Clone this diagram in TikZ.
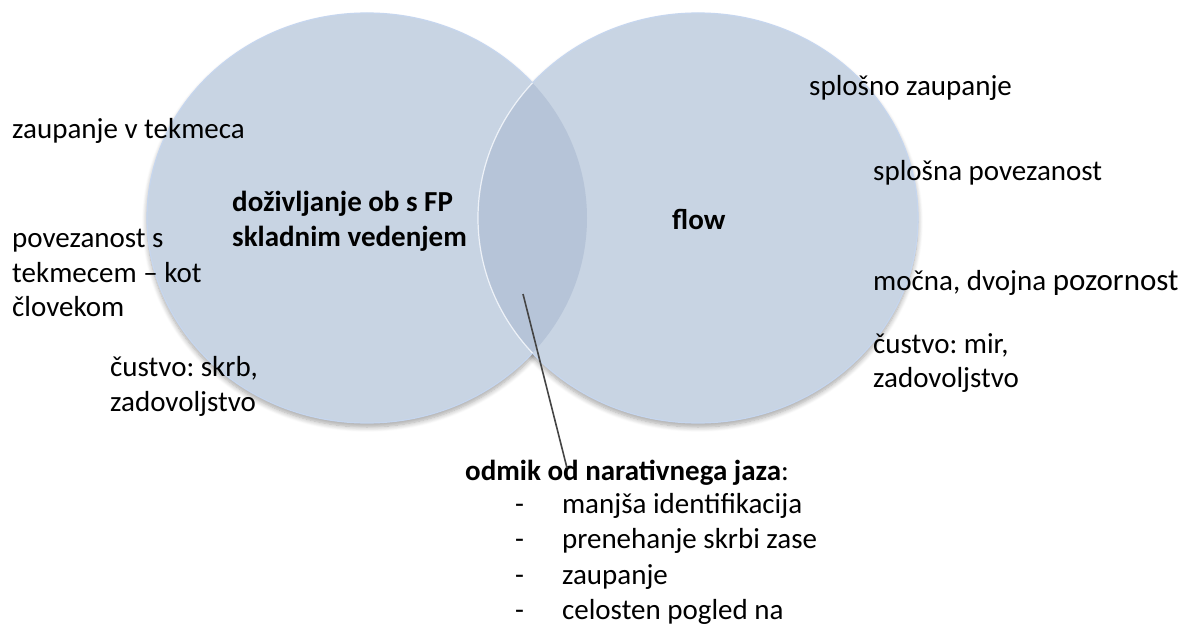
\documentclass[tikz,border=0pt]{standalone}
\usepackage{fontspec}
\setmainfont{Carlito}
\usetikzlibrary{shapes.geometric,shadows.blur}

\definecolor{vennfill}{HTML}{C8D4E3}
\definecolor{vennedge}{HTML}{C6D6EE}
\definecolor{lensfill}{HTML}{B6C4D8}
\definecolor{leader}{HTML}{454545}

\tikzset{
  venn/.style={ellipse, minimum width=440pt, minimum height=410pt, inner sep=0pt,
    fill=vennfill, draw=vennedge, line width=1.2pt},
  vshadow/.style={blur shadow={shadow xshift=0pt, shadow yshift=-4pt,
    shadow blur steps=8, shadow blur radius=5pt, shadow opacity=35}},
  % base west of a multi-line node sits on its last line
  txt/.style={anchor=base west, inner sep=0pt, align=left,
    font=\fontsize{29}{35}\selectfont},
  lbl/.style={txt, font=\fontsize{29}{35}\selectfont\bfseries},
}

\begin{document}
\frenchspacing
\begin{tikzpicture}[x=1pt, y=-1pt]
\useasboundingbox (0,0) rectangle (1189,628);

% soft shadows under both sets
\path[vshadow] (367,218) ellipse [x radius=220, y radius=205];
\path[vshadow] (698,218) ellipse [x radius=220, y radius=205];

% the two sets
\node[venn] (L) at (367,218) {};
\node[venn] (R) at (698,218) {};

% darker overlap region
\begin{scope}
  \clip (L.center) ellipse [x radius=220, y radius=205];
  \fill[lensfill] (R.center) ellipse [x radius=220, y radius=205];
  \draw[white, opacity=0.75, line width=1.2pt] (R.center) ellipse [x radius=220, y radius=205];
\end{scope}

% labels of the sets
\node[lbl] (lblL) at (232,247) {doživljanje ob s FP\\skladnim vedenjem};
\node[lbl] (lblR) at (672,230) {flow};

% left side items
\node[txt] (a1) at (12,139) {zaupanje v tekmeca};
\node[txt] (a2) at (12,317) {povezanost s\\tekmecem – kot\\človekom};
\node[txt] (a3) at (110,411) {čustvo: skrb,\\zadovoljstvo};

% right side items
\node[txt] (b1) at (809,96) {splošno zaupanje};
\node[txt] (b2) at (873,181) {splošna povezanost};
\node[txt] (b3) at (873,291) {močna, dvojna {\fontsize{31}{35}\selectfont pozornost}};
\node[txt] (b4) at (873,388) {čustvo: mir,\\zadovoljstvo};

% shared part
\node[txt] (head) at (465,480) {\textbf{odmik od narativnega jaza}:};
\node[txt, font=\fontsize{29}{35.5}\selectfont] (list) at (515,513)
  {\begin{tabular}[t]{@{}l@{\hspace{38pt}}l@{}}
   - & manjša identifikacija\\
   - & prenehanje skrbi zase\\
   - & zaupanje\\
   - & celosten pogled na
   \end{tabular}};

\coordinate (tip) at (523,294);
\coordinate (foot) at (567,468);
\draw[leader, line width=1.6pt] (tip) -- (foot);
\end{tikzpicture}
\end{document}
